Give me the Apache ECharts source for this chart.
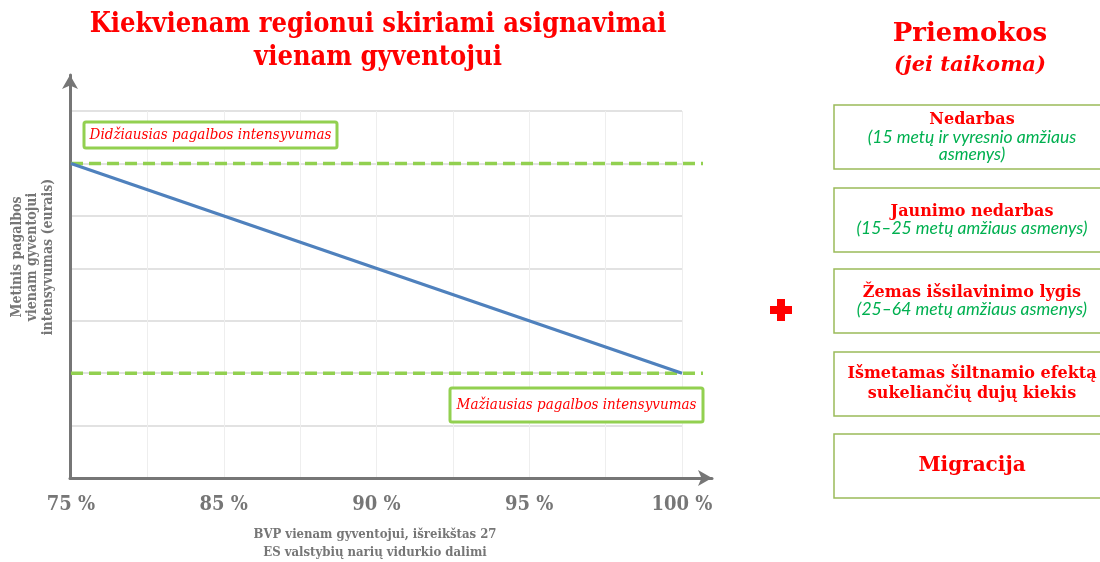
<!DOCTYPE html>
<html>
<head>
<meta charset="utf-8">
<script src="https://cdn.jsdelivr.net/npm/echarts@6/dist/echarts.min.js"></script>
<style>
html,body{margin:0;padding:0;background:#fff;}
#chart{width:1100px;height:562px;}
</style>
</head>
<body>
<div id="chart"></div>
<script>
// ---- data ----
var titleLines = ['Kiekvienam regionui skiriami asignavimai', 'vienam gyventojui'];
var xCategories = ['75 %', '', '85 %', '', '90 %', '', '95 %', '', '100 %'];
var aidLine = [6, null, null, null, null, null, null, null, 2];
var maxIntensity = 6;
var minIntensity = 2;
var yMax = 7;
var maxLabel = 'Didžiausias pagalbos intensyvumas';
var minLabel = 'Mažiausias pagalbos intensyvumas';
var xAxisTitle = ['BVP vienam gyventojui, išreikštas 27', 'ES valstybių narių vidurkio dalimi'];
var yAxisTitle = ['Metinis pagalbos', 'vienam gyventojui', 'intensyvumas (eurais)'];
var sideTitle = 'Priemokos';
var sideSubtitle = '(jei taikoma)';
var boxTitles = [['Nedarbas'], ['Jaunimo nedarbas'], ['Žemas išsilavinimo lygis'], ['Išmetamas šiltnamio efektą', 'sukeliančių dujų kiekis'], ['Migracija']];
var boxNotes = [['(15 metų ir vyresnio amžiaus', 'asmenys)'], ['(15–25 metų amžiaus asmenys)'], ['(25–64 metų amžiaus asmenys)'], [], []];

// ---- styles ----
var RED = '#ff0000', GREEN_TXT = '#00b050', GRAY = '#767676', LGREEN = '#92d050', BOXG = '#9bbb59';
var SERIF_C = '"DejaVu Serif Condensed", "Liberation Serif", serif';
var SERIF = '"DejaVu Serif", serif';

var chart = echarts.init(document.getElementById('chart'), null, {renderer: 'canvas'});

var graphics = [];
function txt(x, y, text, opt) {
  graphics.push({
    type: 'text', x: x, y: y, z: 100,
    style: Object.assign({text: text, textAlign: 'center', textVerticalAlign: 'middle', fill: RED}, opt)
  });
}
// main title
txt(378, 25, titleLines[0], {fontSize: 27, fontWeight: 'bold', fontFamily: SERIF_C});
txt(378, 58, titleLines[1], {fontSize: 27, fontWeight: 'bold', fontFamily: SERIF_C});
// side title
txt(970, 34, sideTitle, {fontSize: 26, fontWeight: 'bold', fontFamily: SERIF});
txt(970, 66, sideSubtitle, {fontSize: 21, fontWeight: 'bold', fontStyle: 'italic', fontFamily: SERIF});
// plus sign
graphics.push({type: 'group', x: 781, y: 310, children: [
  {type: 'rect', shape: {x: -11, y: -4, width: 22, height: 8}, style: {fill: RED}},
  {type: 'rect', shape: {x: -4, y: -11, width: 8, height: 22}, style: {fill: RED}}
]});
// boxes
var boxTop = [105, 188, 269, 352, 434];
boxTitles.forEach(function (t, i) {
  var top = boxTop[i];
  graphics.push({type: 'rect', shape: {x: 834, y: top, width: 280, height: 64},
    style: {fill: '#fff', stroke: BOXG, lineWidth: 1.5}});
  var nNotes = boxNotes[i].length;
  var lh = 17;
  var big = (i === 4);
  if (nNotes === 0) {
    var tl = 20;
    var sy = top + 32 - (t.length - 1) * tl / 2;
    t.forEach(function (s, k) {
      txt(972, sy + k * tl, s, {fontSize: big ? 20 : 16, fontWeight: 'bold', fontFamily: SERIF});
    });
  } else {
    var lines = t.length + nNotes;
    var startY = top + 32 - (lines - 1) * lh / 2;
    t.forEach(function (s, k) {
      txt(972, startY + k * lh, s, {fontSize: 16, fontWeight: 'bold', fontFamily: SERIF});
    });
    boxNotes[i].forEach(function (s, k) {
      txt(972, startY + (t.length + k) * lh, s,
        {fontSize: 17.5, fontStyle: 'italic', fontFamily: 'Lato, "Open Sans", sans-serif', fill: GREEN_TXT});
    });
  }
});
// annotation boxes
function annot(x, y, w, h, text) {
  graphics.push({type: 'rect', shape: {x: x, y: y, width: w, height: h, r: 2},
    style: {fill: '#fff', stroke: LGREEN, lineWidth: 3}, z: 50});
  txt(x + w / 2, y + h / 2, text, {fontSize: 15, fontStyle: 'italic', fontFamily: SERIF_C, z: 60});
}
annot(84, 122, 253, 26, maxLabel);
annot(450, 388, 253, 34, minLabel);
// axis titles
txt(375, 535, xAxisTitle[0], {fontSize: 13, fontWeight: 'bold', fontFamily: SERIF_C, fill: GRAY});
txt(375, 553, xAxisTitle[1], {fontSize: 13, fontWeight: 'bold', fontFamily: SERIF_C, fill: GRAY});
yAxisTitle.forEach(function (s, k) {
  graphics.push({type: 'text', x: 17 + k * 15.5, y: 257, rotation: Math.PI / 2, z: 100,
    style: {text: s, textAlign: 'center', textVerticalAlign: 'middle', fill: GRAY,
      fontSize: 14, fontWeight: 'bold', fontFamily: SERIF_C}});
});

var option = {
  animation: false,
  backgroundColor: '#fff',
  grid: [
    {left: 71, right: 418, top: 111, bottom: 84},   // data grid (to x=682)
    {left: 71, right: 397, top: 111, bottom: 84},   // threshold lines (to x=703)
    {left: 70, right: 388, top: 75, bottom: 84}     // axis arrows
  ],
  xAxis: [
    {gridIndex: 0, type: 'category', data: xCategories, boundaryGap: false,
      axisLine: {show: false}, axisTick: {show: false},
      axisLabel: {interval: 0, margin: 17, color: GRAY, fontSize: 20, fontWeight: 'bold', fontFamily: SERIF_C},
      splitLine: {show: true, interval: 0, lineStyle: {color: '#eeeeee', width: 1}}},
    {gridIndex: 1, type: 'value', min: 0, max: 1, show: false},
    {gridIndex: 2, type: 'value', min: 0, max: 1, axisLabel: {show: false}, axisTick: {show: false},
      splitLine: {show: false},
      axisLine: {show: true, symbol: ['none', 'arrow'], symbolSize: [12, 14], lineStyle: {color: GRAY, width: 3}}}
  ],
  yAxis: [
    {gridIndex: 0, type: 'value', min: 0, max: yMax, interval: 1,
      axisLine: {show: false}, axisTick: {show: false}, axisLabel: {show: false},
      splitLine: {show: true, lineStyle: {color: '#d9d9d9', width: 1.5}}},
    {gridIndex: 1, type: 'value', min: 0, max: yMax, show: false},
    {gridIndex: 2, type: 'value', min: 0, max: 1, axisLabel: {show: false}, axisTick: {show: false},
      splitLine: {show: false},
      axisLine: {show: true, symbol: ['none', 'arrow'], symbolSize: [12, 14], lineStyle: {color: GRAY, width: 3}}}
  ],
  series: [
    {type: 'line', xAxisIndex: 1, yAxisIndex: 1, data: [[0, maxIntensity], [1, maxIntensity]],
      symbol: 'none', lineStyle: {color: LGREEN, width: 3.5, type: [12, 6]}, z: 3},
    {type: 'line', xAxisIndex: 1, yAxisIndex: 1, data: [[0, minIntensity], [1, minIntensity]],
      symbol: 'none', lineStyle: {color: LGREEN, width: 3.5, type: [12, 6]}, z: 3},
    {type: 'line', xAxisIndex: 0, yAxisIndex: 0, data: aidLine, connectNulls: true,
      symbol: 'none', lineStyle: {color: '#4f81bd', width: 3.2}, z: 4}
  ],
  graphic: graphics
};
chart.setOption(option);
</script>
</body>
</html>
